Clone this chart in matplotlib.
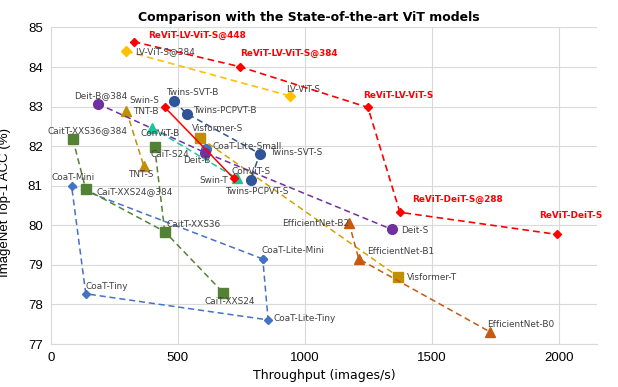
import matplotlib
matplotlib.use("Agg")
import matplotlib.pyplot as plt

# ---- data (throughput img/s, top-1 acc %) ----
revit_names = ["ReViT-LV-ViT-S@448", "ReViT-LV-ViT-S@384", "ReViT-LV-ViT-S",
               "ReViT-DeiT-S@288", "ReViT-DeiT-S"]
revit_tp = [326, 743, 1248, 1374, 1993]
revit_acc = [84.64, 84.01, 82.98, 80.33, 79.77]

lvvit_names = ["LV-ViT-S@384", "LV-ViT-S"]
lvvit_tp = [296, 940]
lvvit_acc = [84.40, 83.27]

swin_names = ["Swin-S", "Swin-T"]
swin_tp = [447, 719]
swin_acc = [82.99, 81.19]

convit_names = ["ConViT-B", "ConViT-S"]
convit_tp = [397, 732]
convit_acc = [82.47, 81.19]

twins_names = ["Twins-SVT-B", "Twins-PCPVT-B", "Twins-SVT-S", "Twins-PCPVT-S"]
twins_tp = [484, 535, 822, 786]
twins_acc = [83.14, 82.82, 81.81, 81.14]

deit_names = ["Deit-B@384", "Deit-B", "Deit-S"]
deit_tp = [185, 606, 1341]
deit_acc = [83.07, 81.84, 79.90]

coat_names = ["CoaT-Lite-Mini", "CoaT-Mini", "CoaT-Tiny", "CoaT-Lite-Tiny", "CoaT-Lite-Mini"]
coat_tp = [834, 81, 137, 855, 834]
coat_acc = [79.15, 81.00, 78.27, 77.61, 79.15]

coat_small_name = "CoaT-Lite-Small"
coat_small_tp = 611
coat_small_acc = 81.93

cait_names = ["CaitT-XXS36@384", "CaiT-XXS24@384", "CaitT-XXS36", "CaiT-XXS24"]
cait_tp = [86, 137, 448, 678]
cait_acc = [82.18, 80.91, 79.84, 78.30]

cait_s24_name = "CaiT-S24"
cait_s24_tp = 408
cait_s24_acc = 81.99

tnt_names = ["TNT-B", "TNT-S"]
tnt_tp = [297, 366]
tnt_acc = [82.89, 81.49]

visformer_names = ["Visformer-S", "Visformer-T"]
visformer_tp = [588, 1368]
visformer_acc = [82.21, 78.70]

effnet_names = ["EfficientNet-B2", "EfficientNet-B1", "EfficientNet-B0"]
effnet_tp = [1173, 1212, 1728]
effnet_acc = [80.07, 79.15, 77.31]

# label placement: (dx px, dy px, ha)
LABEL_POS = {
    "ReViT-LV-ViT-S@448": (14, 6, "left"),
    "ReViT-LV-ViT-S@384": (0, 13, "left"),
    "ReViT-LV-ViT-S": (-5, 12, "left"),
    "ReViT-DeiT-S@288": (12, 13, "left"),
    "ReViT-DeiT-S": (-18, 19, "left"),
    "LV-ViT-S@384": (9, 0, "left"),
    "LV-ViT-S": (-4, 6, "left"),
    "Swin-S": (-5, 7, "right"),
    "Swin-T": (-5, -2, "right"),
    "ConViT-B": (8, -6, "center"),
    "ConViT-S": (-5, 7, "left"),
    "Twins-SVT-B": (18, 9, "center"),
    "Twins-PCPVT-B": (6, 3, "left"),
    "Twins-SVT-S": (10, 1, "left"),
    "Twins-PCPVT-S": (6, -11, "center"),
    "Deit-B@384": (3, 8, "center"),
    "Deit-B": (-8, -8, "center"),
    "Deit-S": (10, -1, "left"),
    "CoaT-Mini": (2, 8, "center"),
    "CoaT-Tiny": (0, 7, "left"),
    "CoaT-Lite-Mini": (-1, 8, "left"),
    "CoaT-Lite-Tiny": (5, 1, "left"),
    "CoaT-Lite-Small": (6, 2, "left"),
    "CaitT-XXS36@384": (15, 8, "center"),
    "CaiT-XXS24@384": (11, -2, "left"),
    "CaitT-XXS36": (2, 7, "left"),
    "CaiT-XXS24": (7, -9, "center"),
    "CaiT-S24": (-4, -8, "left"),
    "TNT-B": (7, -1, "left"),
    "TNT-S": (-3, -8, "center"),
    "Visformer-S": (-8, 9, "left"),
    "Visformer-T": (9, -1, "left"),
    "EfficientNet-B2": (0, -1, "right"),
    "EfficientNet-B1": (8, 7, "left"),
    "EfficientNet-B0": (-3, 7, "left"),
}


def label(ax, names, xs, ys, color="#404040", weight="normal"):
    for n, x, y in zip(names, xs, ys):
        dx, dy, ha = LABEL_POS[n]
        ax.annotate(n, (x, y), xytext=(dx, dy), textcoords="offset pixels",
                    ha=ha, va="center", fontsize=6.4, color=color,
                    fontweight=weight, zorder=10)


fig = plt.figure(figsize=(6.18, 3.87), dpi=100)
ax = fig.add_axes([0.0825, 0.111, 0.8835, 0.818])

dash = (0, (4, 2.5))
ax.plot(coat_tp, coat_acc, ls=dash, color="#4472C4", lw=1.1, marker="D", ms=4.5, zorder=3)
ax.plot(coat_small_tp, coat_small_acc, ls="none", color="#4472C4", marker="o", ms=7, zorder=3)
ax.plot(cait_tp, cait_acc, ls=dash, color="#548235", lw=1.1, marker="s", ms=6.5, zorder=3)
ax.plot([cait_s24_tp, cait_tp[2]], [cait_s24_acc, cait_acc[2]], ls=dash, color="#548235", lw=1.1, zorder=3)
ax.plot(cait_s24_tp, cait_s24_acc, ls="none", color="#548235", marker="s", ms=6.5, zorder=3)
ax.plot(tnt_tp, tnt_acc, ls=dash, color="#BF9000", lw=1.1, marker="^", ms=7, zorder=3)
ax.plot(visformer_tp, visformer_acc, ls=dash, color="#D4A300", lw=1.1, marker="s", ms=6.5,
        mfc="#BF9000", mec="#BF9000", zorder=3)
ax.plot(effnet_tp, effnet_acc, ls=dash, color="#C55A11", lw=1.1, marker="^", ms=7, zorder=3)
ax.plot(deit_tp, deit_acc, ls=dash, color="#7030A0", lw=1.1, marker="o", ms=7, zorder=4)
ax.plot(convit_tp, convit_acc, ls=dash, color="#17C79A", lw=1.1, marker="^", ms=7, zorder=4)
ax.plot(twins_tp, twins_acc, ls=dash, color="#2F5597", lw=1.1, marker="o", ms=7, zorder=4)
ax.plot(lvvit_tp, lvvit_acc, ls=dash, color="#FFC000", lw=1.2, marker="D", ms=5, zorder=4)
ax.plot(swin_tp, swin_acc, ls="-", color="#FF0000", lw=1.1, marker="D", ms=4.5, zorder=5)
ax.plot(revit_tp, revit_acc, ls=dash, color="#FF0000", lw=1.2, marker="D", ms=4.5, zorder=5)

label(ax, coat_names[:4], coat_tp[:4], coat_acc[:4])
label(ax, [coat_small_name], [coat_small_tp], [coat_small_acc])
label(ax, cait_names, cait_tp, cait_acc)
label(ax, [cait_s24_name], [cait_s24_tp], [cait_s24_acc])
label(ax, tnt_names, tnt_tp, tnt_acc)
label(ax, visformer_names, visformer_tp, visformer_acc)
label(ax, effnet_names, effnet_tp, effnet_acc)
label(ax, deit_names, deit_tp, deit_acc)
label(ax, convit_names, convit_tp, convit_acc)
label(ax, twins_names, twins_tp, twins_acc)
label(ax, lvvit_names, lvvit_tp, lvvit_acc)
label(ax, swin_names, swin_tp, swin_acc)
label(ax, revit_names, revit_tp, revit_acc, color="#FF0000", weight="bold")

ax.set_xlim(0, 2150)
ax.set_ylim(77, 85)
ax.set_xticks([0, 500, 1000, 1500, 2000])
ax.set_yticks(range(77, 86))
ax.grid(True, color="#D9D9D9", lw=0.8)
ax.set_axisbelow(True)
for s in ax.spines.values():
    s.set_visible(False)
ax.spines["left"].set_visible(True)
ax.spines["bottom"].set_visible(True)
ax.spines["left"].set_color("#D9D9D9")
ax.spines["bottom"].set_color("#D9D9D9")
ax.tick_params(length=0, labelsize=9.5, pad=6)
for t in ax.get_xticklabels() + ax.get_yticklabels():
    t.set_family("Liberation Sans")

ax.set_xlabel("Throughput (images/s)", fontsize=9, fontweight="medium", labelpad=3)
ax.set_ylabel("ImageNet Top-1 ACC (%)", fontsize=9.5, family="Liberation Sans")
ax.yaxis.set_label_coords(-0.073, 0.447)
fig.text(0.5, 0.955, "Comparison with the State-of-the-art ViT models",
         ha="center", va="center", fontsize=9, fontweight="bold")

fig.savefig("out.png", dpi=100)
